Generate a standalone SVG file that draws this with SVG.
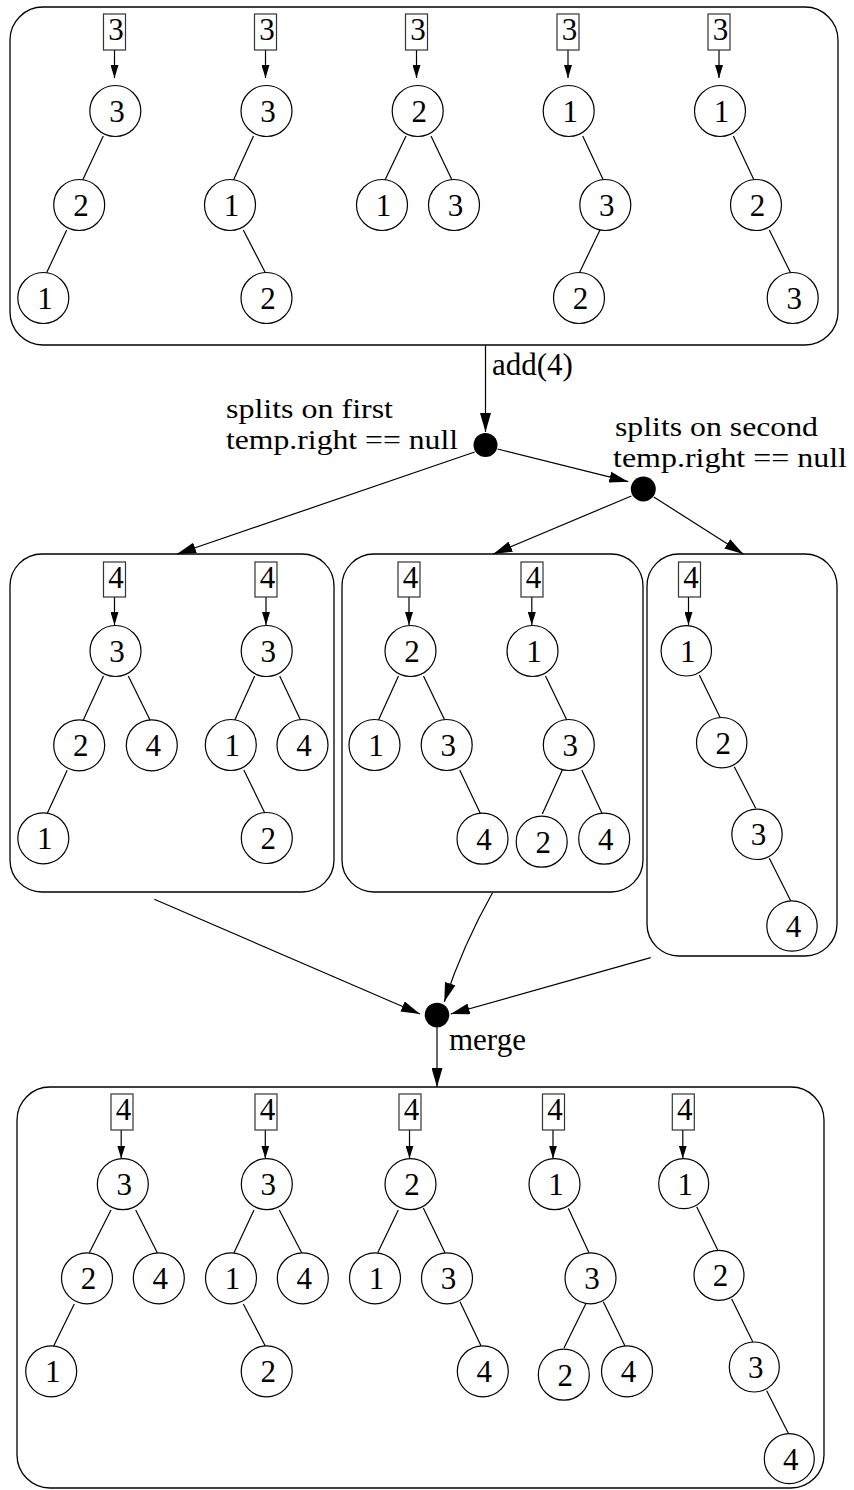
<svg xmlns="http://www.w3.org/2000/svg" width="854" height="1490" viewBox="0 0 854 1490">
<style>
.box{fill:none;stroke:#000;stroke-width:1.3}
.db{fill:#fff;stroke:#333;stroke-width:1.2}
.n circle{fill:#fff;stroke:#000;stroke-width:1.2}
.dot{fill:#000}
text{font-family:'Liberation Serif','Times New Roman',serif;font-size:31px;fill:#000}
.lb{font-size:28px}
.n text,.dg text{text-anchor:middle}
.e{stroke:#000;stroke-width:1.2;fill:none}
.s{marker-end:url(#ah)}
.b{marker-end:url(#AH)}
</style>
<defs>
<marker id="ah" markerUnits="userSpaceOnUse" markerWidth="13" markerHeight="8" refX="13" refY="4" orient="auto"><path d="M0,0 L13,4 L0,8 z" fill="#000"/></marker>
<marker id="AH" markerUnits="userSpaceOnUse" markerWidth="19" markerHeight="11" refX="19" refY="5.5" orient="auto"><path d="M0,0 L19,5.5 L0,11 z" fill="#000"/></marker>
</defs>
<rect width="854" height="1490" fill="#fff"/>

<!-- containers -->
<g id="top-box"><rect class="box" x="10" y="7" width="828" height="338" rx="33"/></g>
<g id="box-a"><rect class="box" x="10" y="554" width="324" height="338" rx="32"/></g>
<g id="box-b"><rect class="box" x="342" y="554" width="301" height="338" rx="32"/></g>
<g id="box-c"><rect class="box" x="647" y="554" width="190" height="402" rx="32"/></g>
<g id="bottom-box"><rect class="box" x="17" y="1087" width="807" height="401" rx="33"/></g>

<!-- split / merge points -->
<g id="split1"><circle class="dot" cx="485.5" cy="445" r="12"/></g>
<g id="split2"><circle class="dot" cx="643.3" cy="489" r="12.5"/></g>
<g id="merge-pt"><circle class="dot" cx="437" cy="1015" r="12.3"/></g>

<!-- labels -->
<g id="labels">
<text x="492" y="375">add(4)</text>
<text class="lb" x="226" y="418" textLength="167" lengthAdjust="spacingAndGlyphs">splits on first</text>
<text class="lb" x="226" y="449" textLength="232" lengthAdjust="spacingAndGlyphs">temp.right == null</text>
<text class="lb" x="615" y="436" textLength="203" lengthAdjust="spacingAndGlyphs">splits on second</text>
<text class="lb" x="613" y="467" textLength="234" lengthAdjust="spacingAndGlyphs">temp.right == null</text>
<text x="449" y="1050">merge</text>
</g>

<!-- connectors -->
<g id="connectors">
<!-- top box pointer arrows -->
<line class="e s" x1="114.5" y1="50" x2="114.5" y2="78"/>
<line class="e s" x1="265.5" y1="50" x2="265.5" y2="78"/>
<line class="e s" x1="416.5" y1="50" x2="416.5" y2="78"/>
<line class="e s" x1="568" y1="50" x2="568" y2="78"/>
<line class="e s" x1="719" y1="50" x2="719" y2="78"/>
<!-- top trees -->
<line class="e" x1="103.3" y1="136" x2="82.7" y2="180"/>
<line class="e" x1="66.7" y1="230" x2="46.5" y2="273"/>
<line class="e" x1="253.5" y1="136" x2="233.5" y2="180"/>
<line class="e" x1="243.3" y1="230" x2="265.5" y2="273"/>
<line class="e" x1="406" y1="136" x2="385" y2="180"/>
<line class="e" x1="431" y1="136" x2="452" y2="180"/>
<line class="e" x1="582.7" y1="136" x2="603.3" y2="180"/>
<line class="e" x1="600" y1="230" x2="579.3" y2="273"/>
<line class="e" x1="733.3" y1="136" x2="754" y2="180"/>
<line class="e" x1="769.3" y1="230" x2="790.7" y2="273"/>
<!-- split edges -->
<line class="e b" x1="485.5" y1="345" x2="485.5" y2="432"/>
<line class="e b" x1="497.5" y1="449" x2="628.3" y2="481.7"/>
<line class="e b" x1="474.7" y1="452" x2="177" y2="554"/>
<line class="e b" x1="631.4" y1="496" x2="493.3" y2="554"/>
<line class="e b" x1="653.8" y1="497" x2="743.3" y2="554"/>
<!-- middle pointer arrows -->
<line class="e s" x1="114.5" y1="597" x2="114.5" y2="625"/>
<line class="e s" x1="266" y1="597" x2="266" y2="625"/>
<line class="e s" x1="409" y1="597" x2="409" y2="625"/>
<line class="e s" x1="531.8" y1="597" x2="531.8" y2="625"/>
<line class="e s" x1="688.5" y1="597" x2="688.5" y2="625"/>
<!-- box A trees -->
<line class="e" x1="103.5" y1="676" x2="83.2" y2="720.3"/>
<line class="e" x1="128.3" y1="676" x2="150" y2="720"/>
<line class="e" x1="67.2" y1="770.3" x2="47.3" y2="813.3"/>
<line class="e" x1="254.7" y1="676" x2="234.8" y2="720"/>
<line class="e" x1="279.7" y1="676" x2="300.5" y2="720"/>
<line class="e" x1="243.8" y1="770" x2="264.8" y2="813"/>
<!-- box B trees -->
<line class="e" x1="398.5" y1="676" x2="378.5" y2="720"/>
<line class="e" x1="423.5" y1="676" x2="444.7" y2="720"/>
<line class="e" x1="459.7" y1="770" x2="480.5" y2="813.7"/>
<line class="e" x1="545.5" y1="676" x2="566.8" y2="720"/>
<line class="e" x1="562.3" y1="770" x2="542.3" y2="814"/>
<line class="e" x1="581.8" y1="770" x2="602.2" y2="813.7"/>
<!-- box C tree -->
<line class="e" x1="699.3" y1="675" x2="720" y2="717.3"/>
<line class="e" x1="734.3" y1="766.7" x2="755.7" y2="808.3"/>
<line class="e" x1="769.3" y1="858.3" x2="790.7" y2="900.7"/>
<!-- merge edges -->
<line class="e b" x1="154.3" y1="899.3" x2="420" y2="1014"/>
<path class="e b" d="M492.5,892.7 Q463,945 444.3,1001.7"/>
<line class="e b" x1="650.7" y1="957.7" x2="450.7" y2="1014"/>
<line class="e b" x1="437" y1="1027" x2="437" y2="1087"/>
<!-- bottom pointer arrows -->
<line class="e s" x1="121.2" y1="1130" x2="121.2" y2="1158.5"/>
<line class="e s" x1="265.3" y1="1130" x2="265.3" y2="1158.5"/>
<line class="e s" x1="409.5" y1="1130" x2="409.5" y2="1158.5"/>
<line class="e s" x1="553" y1="1130" x2="553" y2="1158.5"/>
<line class="e s" x1="682.8" y1="1130" x2="682.8" y2="1158.5"/>
<!-- bottom trees -->
<line class="e" x1="111" y1="1210" x2="89.3" y2="1252.7"/>
<line class="e" x1="135.7" y1="1210" x2="157.3" y2="1252.7"/>
<line class="e" x1="74.3" y1="1304" x2="53.3" y2="1346.7"/>
<line class="e" x1="254" y1="1210" x2="234" y2="1252.7"/>
<line class="e" x1="279.3" y1="1210" x2="301.7" y2="1252.7"/>
<line class="e" x1="243.3" y1="1304" x2="265.7" y2="1346.7"/>
<line class="e" x1="398.3" y1="1210" x2="377.7" y2="1252.7"/>
<line class="e" x1="423.3" y1="1208" x2="445" y2="1252.7"/>
<line class="e" x1="460" y1="1301.7" x2="481" y2="1345.7"/>
<line class="e" x1="568.3" y1="1208.3" x2="589" y2="1252.7"/>
<line class="e" x1="585.7" y1="1304" x2="564" y2="1348"/>
<line class="e" x1="603.3" y1="1301.7" x2="625" y2="1346"/>
<line class="e" x1="696.7" y1="1206.7" x2="717.7" y2="1250"/>
<line class="e" x1="731.7" y1="1299" x2="752.7" y2="1341.7"/>
<line class="e" x1="766.7" y1="1390.7" x2="788.3" y2="1433.3"/>
</g>

<!-- pointer boxes -->
<g id="p-t1" class="dg"><rect class="db" x="103.5" y="14" width="22" height="36"/><text x="116" y="40">3</text></g>
<g id="p-t2" class="dg"><rect class="db" x="254.5" y="14" width="22" height="36"/><text x="267" y="40">3</text></g>
<g id="p-t3" class="dg"><rect class="db" x="405.5" y="14" width="22" height="36"/><text x="418" y="40">3</text></g>
<g id="p-t4" class="dg"><rect class="db" x="557" y="14" width="22" height="36"/><text x="569.5" y="40">3</text></g>
<g id="p-t5" class="dg"><rect class="db" x="708" y="14" width="22" height="36"/><text x="720.5" y="40">3</text></g>

<g id="p-a1" class="dg"><rect class="db" x="103.5" y="562" width="22" height="35"/><text x="116" y="588">4</text></g>
<g id="p-a2" class="dg"><rect class="db" x="255" y="562" width="22" height="35"/><text x="267.5" y="588">4</text></g>
<g id="p-b1" class="dg"><rect class="db" x="398" y="562" width="22" height="35"/><text x="410.5" y="588">4</text></g>
<g id="p-b2" class="dg"><rect class="db" x="521" y="562" width="22" height="35"/><text x="533.5" y="588">4</text></g>
<g id="p-c1" class="dg"><rect class="db" x="678.5" y="562" width="22" height="35"/><text x="691" y="588">4</text></g>

<g id="p-u1" class="dg"><rect class="db" x="111" y="1094" width="22" height="36"/><text x="123.5" y="1120">4</text></g>
<g id="p-u2" class="dg"><rect class="db" x="255" y="1094" width="22" height="36"/><text x="267.5" y="1120">4</text></g>
<g id="p-u3" class="dg"><rect class="db" x="399" y="1094" width="22" height="36"/><text x="411.5" y="1120">4</text></g>
<g id="p-u4" class="dg"><rect class="db" x="542.5" y="1094" width="22" height="36"/><text x="555" y="1120">4</text></g>
<g id="p-u5" class="dg"><rect class="db" x="672.3" y="1094" width="22" height="36"/><text x="684.8" y="1120">4</text></g>

<!-- top trees -->
<g id="t1-3" class="n"><circle cx="115.3" cy="111" r="25.5"/><text x="117" y="122">3</text></g>
<g id="t1-2" class="n"><circle cx="79.2" cy="205" r="25.5"/><text x="81" y="216">2</text></g>
<g id="t1-1" class="n"><circle cx="43.3" cy="298" r="25.5"/><text x="45" y="309">1</text></g>

<g id="t2-3" class="n"><circle cx="266.5" cy="111" r="25.5"/><text x="268" y="122">3</text></g>
<g id="t2-1" class="n"><circle cx="230" cy="205" r="25.5"/><text x="231.5" y="216">1</text></g>
<g id="t2-2" class="n"><circle cx="266.5" cy="298" r="25.5"/><text x="268" y="309">2</text></g>

<g id="t3-2" class="n"><circle cx="417.7" cy="111" r="25.5"/><text x="419.2" y="122">2</text></g>
<g id="t3-1" class="n"><circle cx="382" cy="205" r="25.5"/><text x="383.5" y="216">1</text></g>
<g id="t3-3" class="n"><circle cx="454" cy="205" r="25.5"/><text x="455.5" y="216">3</text></g>

<g id="t4-1" class="n"><circle cx="568.7" cy="111" r="25.5"/><text x="570.2" y="122">1</text></g>
<g id="t4-3" class="n"><circle cx="605.3" cy="205" r="25.5"/><text x="606.8" y="216">3</text></g>
<g id="t4-2" class="n"><circle cx="579" cy="298" r="25.5"/><text x="580.5" y="309">2</text></g>

<g id="t5-1" class="n"><circle cx="720" cy="111" r="25.5"/><text x="721.5" y="122">1</text></g>
<g id="t5-2" class="n"><circle cx="756" cy="205" r="25.5"/><text x="757.5" y="216">2</text></g>
<g id="t5-3" class="n"><circle cx="792.7" cy="298" r="25.5"/><text x="794.2" y="309">3</text></g>

<!-- box A trees -->
<g id="a1-3" class="n"><circle cx="115.5" cy="651" r="25.5"/><text x="117" y="662">3</text></g>
<g id="a1-2" class="n"><circle cx="79.2" cy="745.3" r="25.5"/><text x="80.7" y="756.3">2</text></g>
<g id="a1-4" class="n"><circle cx="151.8" cy="745.3" r="25.5"/><text x="153.3" y="756.3">4</text></g>
<g id="a1-1" class="n"><circle cx="43.3" cy="838.3" r="25.5"/><text x="44.8" y="849.3">1</text></g>

<g id="a2-3" class="n"><circle cx="266.7" cy="651" r="25.5"/><text x="268.2" y="662">3</text></g>
<g id="a2-1" class="n"><circle cx="230.8" cy="745" r="25.5"/><text x="232.3" y="756">1</text></g>
<g id="a2-4" class="n"><circle cx="302.5" cy="745" r="25.5"/><text x="304" y="756">4</text></g>
<g id="a2-2" class="n"><circle cx="266.8" cy="838" r="25.5"/><text x="268.3" y="849">2</text></g>

<!-- box B trees -->
<g id="b1-2" class="n"><circle cx="410.5" cy="651" r="25.5"/><text x="412" y="662">2</text></g>
<g id="b1-1" class="n"><circle cx="374.5" cy="745" r="25.5"/><text x="376" y="756">1</text></g>
<g id="b1-3" class="n"><circle cx="446.7" cy="745" r="25.5"/><text x="448.2" y="756">3</text></g>
<g id="b1-4" class="n"><circle cx="482.5" cy="838.7" r="25.5"/><text x="484" y="849.7">4</text></g>

<g id="b2-1" class="n"><circle cx="532.5" cy="651" r="25.5"/><text x="534" y="662">1</text></g>
<g id="b2-3" class="n"><circle cx="568.8" cy="745" r="25.5"/><text x="570.3" y="756">3</text></g>
<g id="b2-2" class="n"><circle cx="541.7" cy="841.7" r="25.5"/><text x="543.2" y="852.7">2</text></g>
<g id="b2-4" class="n"><circle cx="604.2" cy="838.7" r="25.5"/><text x="605.7" y="849.7">4</text></g>

<!-- box C tree -->
<g id="c1-1" class="n"><circle cx="686.3" cy="650.8" r="25.2"/><text x="687.8" y="661.8">1</text></g>
<g id="c1-2" class="n"><circle cx="721.7" cy="742.7" r="25.2"/><text x="723.2" y="753.7">2</text></g>
<g id="c1-3" class="n"><circle cx="757" cy="834.3" r="25.2"/><text x="758.5" y="845.3">3</text></g>
<g id="c1-4" class="n"><circle cx="792" cy="926" r="25.2"/><text x="793.5" y="937">4</text></g>

<!-- bottom trees -->
<g id="u1-3" class="n"><circle cx="122.8" cy="1184.2" r="25.5"/><text x="124.3" y="1195.2">3</text></g>
<g id="u1-2" class="n"><circle cx="87" cy="1278.3" r="25.5"/><text x="88.5" y="1289.3">2</text></g>
<g id="u1-4" class="n"><circle cx="158.8" cy="1278.3" r="25.5"/><text x="160.3" y="1289.3">4</text></g>
<g id="u1-1" class="n"><circle cx="51.2" cy="1371.3" r="25.5"/><text x="52.7" y="1382.3">1</text></g>

<g id="u2-3" class="n"><circle cx="266.8" cy="1184.2" r="25.5"/><text x="268.3" y="1195.2">3</text></g>
<g id="u2-1" class="n"><circle cx="231" cy="1278.3" r="25.5"/><text x="232.5" y="1289.3">1</text></g>
<g id="u2-4" class="n"><circle cx="302.8" cy="1278.3" r="25.5"/><text x="304.3" y="1289.3">4</text></g>
<g id="u2-2" class="n"><circle cx="266.7" cy="1371.3" r="25.5"/><text x="268.2" y="1382.3">2</text></g>

<g id="u3-2" class="n"><circle cx="410.5" cy="1184.2" r="25.5"/><text x="412" y="1195.2">2</text></g>
<g id="u3-1" class="n"><circle cx="375" cy="1278.3" r="25.5"/><text x="376.5" y="1289.3">1</text></g>
<g id="u3-3" class="n"><circle cx="447" cy="1278.3" r="25.5"/><text x="448.5" y="1289.3">3</text></g>
<g id="u3-4" class="n"><circle cx="482.8" cy="1371.3" r="25.5"/><text x="484.3" y="1382.3">4</text></g>

<g id="u4-1" class="n"><circle cx="554.5" cy="1184.2" r="25.5"/><text x="556" y="1195.2">1</text></g>
<g id="u4-3" class="n"><circle cx="590.5" cy="1278.3" r="25.5"/><text x="592" y="1289.3">3</text></g>
<g id="u4-2" class="n"><circle cx="563.8" cy="1374.7" r="25.5"/><text x="565.3" y="1385.7">2</text></g>
<g id="u4-4" class="n"><circle cx="627" cy="1371.3" r="25.5"/><text x="628.5" y="1382.3">4</text></g>

<g id="u5-1" class="n"><circle cx="683.7" cy="1183.7" r="25"/><text x="685.2" y="1194.7">1</text></g>
<g id="u5-2" class="n"><circle cx="719" cy="1275.3" r="25"/><text x="720.5" y="1286.3">2</text></g>
<g id="u5-3" class="n"><circle cx="754.3" cy="1367" r="25"/><text x="755.8" y="1378">3</text></g>
<g id="u5-4" class="n"><circle cx="789.3" cy="1458.7" r="25"/><text x="790.8" y="1469.7">4</text></g>
</svg>
